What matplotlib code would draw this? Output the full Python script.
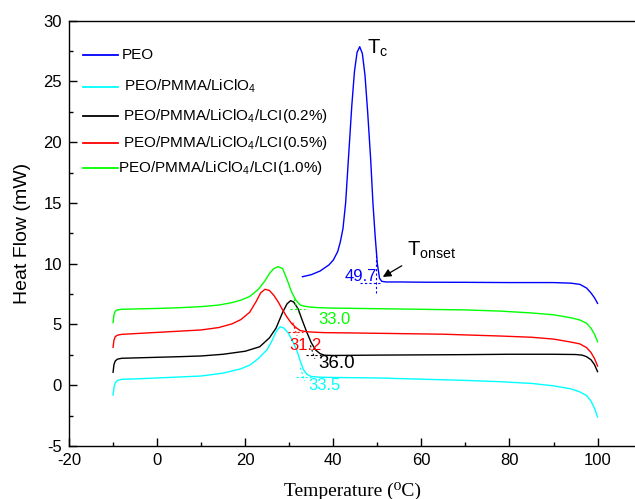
import matplotlib
matplotlib.use("Agg")
import matplotlib.pyplot as plt
from matplotlib.ticker import MultipleLocator

plt.rcParams['font.family'] = ['Liberation Sans', 'DejaVu Sans']
plt.rcParams['mathtext.fontset'] = 'custom'
plt.rcParams['mathtext.rm'] = 'Liberation Sans'
plt.rcParams['mathtext.it'] = 'Liberation Sans:italic'
plt.rcParams['axes.unicode_minus'] = False

# ---- données ----
labels = ['PEO',
          'PEO/PMMA/LiClO$_4$',
          'PEO/PMMA/LiClO$_4$/LCI(0.2%)',
          'PEO/PMMA/LiClO$_4$/LCI(0.5%)',
          'PEO/PMMA/LiClO$_4$/LCI(1.0%)']
couleurs = ['#0000ff', '#00ffff', '#000000', '#ff0000', '#00ff00']

x_peo = [33, 35, 37, 39, 40, 41, 41.6, 42.2, 42.8, 43.5, 44.2, 44.8, 45.4, 46, 46.6, 47.2,
         47.8, 48.5, 49, 49.5, 50, 50.5, 51, 52, 55, 60, 70, 80, 90, 94, 96, 97.5, 98.5,
         99.3, 100]
y_peo = [8.93, 9.1, 9.4, 9.9, 10.3, 11.0, 11.8, 12.9, 15.0, 19.0, 23.0, 25.8, 27.4, 27.86,
         27.3, 25.5, 22.5, 18.5, 15.0, 12.3, 10.0, 8.8, 8.55, 8.5, 8.5, 8.48, 8.47, 8.45, 8.45,
         8.4, 8.3, 8.0, 7.6, 7.2, 6.74]

x_pmma = [-10, -9.8, -9.5, -9, -8, -5, 0, 5, 10, 15, 19, 21.1, 23, 24.9, 26, 27, 27.9, 28.8,
          29.8, 30.8, 31.7, 32.5, 33.2, 34, 35, 37, 40, 50, 60, 70, 78, 85, 90, 94, 96, 97.5,
          98.5, 99.3, 100]
y_pmma = [-0.8, -0.2, 0.2, 0.4, 0.49, 0.52, 0.6, 0.68, 0.76, 1.0, 1.35, 1.67, 2.2, 2.9, 3.6,
          4.4, 4.82, 4.7, 4.28, 3.6, 2.9, 2.0, 1.3, 0.9, 0.72, 0.66, 0.64, 0.6, 0.5, 0.4, 0.29,
          0.15, -0.05, -0.3, -0.55, -0.85, -1.3, -1.9, -2.61]

x_lci02 = [-10, -9.8, -9.5, -9, -8, -5, 0, 5, 10, 15, 20, 23.3, 25.5, 27, 28.5, 29.5, 30.3, 31,
           32, 33, 34, 35, 36, 37, 38, 40, 50, 60, 70, 80, 90, 95, 96.5, 97.5, 98.5, 99.3, 100]
y_lci02 = [1.07, 1.7, 2.0, 2.15, 2.22, 2.25, 2.3, 2.35, 2.41, 2.55, 2.8, 3.17, 3.9, 4.7, 6.0,
           6.7, 6.96, 6.85, 6.3, 5.3, 4.35, 3.5, 2.9, 2.6, 2.47, 2.45, 2.48, 2.5, 2.52, 2.55,
           2.55, 2.53, 2.48, 2.35, 2.1, 1.7, 1.12]

x_lci05 = [-10, -9.8, -9.5, -9, -8, -5, 0, 5, 10, 14, 17, 19, 21, 22.5, 23.5, 24.5, 25.5, 26.5,
           27.5, 28.5, 29.5, 30.5, 31.5, 32.5, 34, 36, 38, 45, 55, 65, 78, 85, 90, 94, 96, 97.5,
           98.5, 99.3, 100]
y_lci05 = [3.12, 3.7, 4.0, 4.12, 4.19, 4.25, 4.35, 4.45, 4.55, 4.75, 5.05, 5.4, 6.0, 6.9, 7.6,
           7.9, 7.8, 7.4, 6.85, 6.2, 5.6, 5.1, 4.75, 4.5, 4.4, 4.36, 4.33, 4.3, 4.25, 4.2, 4.05,
           3.95, 3.8, 3.55, 3.4, 3.1, 2.7, 2.2, 1.58]

x_lci10 = [-10, -9.8, -9.5, -9, -8, -5, 0, 5, 10, 14, 17, 19, 21, 23, 24.5, 25.5, 26.5, 27.5,
           28.5, 29.5, 30.5, 31.5, 32.5, 33.5, 35, 37, 40, 50, 60, 70, 78, 85, 90, 94, 96,
           97.5, 98.5, 99.3, 100]
y_lci10 = [5.15, 5.8, 6.1, 6.2, 6.25, 6.28, 6.32, 6.38, 6.47, 6.6, 6.8, 7.0, 7.3, 7.9, 8.6,
           9.2, 9.6, 9.76, 9.6, 8.7, 7.7, 7.0, 6.6, 6.5, 6.42, 6.38, 6.35, 6.3, 6.25, 6.2, 6.1,
           5.95, 5.8, 5.55, 5.37, 5.1, 4.7, 4.2, 3.58]

series_x = [x_peo, x_pmma, x_lci02, x_lci05, x_lci10]
series_y = [y_peo, y_pmma, y_lci02, y_lci05, y_lci10]

# températures onset (texte) et croix de tangentes (position lue)
onset_txt = ['49.7', '33.5', '36.0', '31.2', '33.0']
croix_x = [49.8, 33.1, 35.4, 31.4, 31.7]
croix_y = [8.4, 0.65, 2.49, 4.36, 6.28]
txt_x = [46.2, 34.3, 36.7, 30.0, 36.6]
txt_y = [8.93, 0.02, 1.75, 3.31, 5.43]
txt_taille = [12, 12, 13.5, 12, 12]

# ---- figure ----
fig = plt.figure(figsize=(6.35, 4.99), dpi=100)
ax = fig.add_axes([0.1087, 0.1062, 0.8913, 0.8523])

for xs, ys, c in zip(series_x, series_y, couleurs):
    ax.plot(xs, ys, color=c, lw=1.0)

# tangentes en pointillés
for i, c in enumerate(couleurs):
    cx, cy = croix_x[i], croix_y[i]
    if i == 0:
        ax.plot([cx - 3.7, cx + 1.2], [cy, cy], ls=(0, (2, 2)), color=c, lw=0.8)
        ax.plot([cx, cx], [cy - 0.8, cy + 2.7], ls=(0, (2, 2)), color=c, lw=0.8)
    else:
        ax.plot([cx - 1.6, cx + 1.8], [cy, cy], ls=(0, (2, 2)), color=c, lw=0.8)
        ax.plot([cx - 0.6, cx + 0.4], [cy + 0.8, cy - 0.3], ls=(0, (2, 2)), color=c, lw=0.8)
    ha = 'center' if i == 0 else 'left'
    ax.text(txt_x[i], txt_y[i], onset_txt[i], color=c, fontsize=txt_taille[i],
            ha=ha, va='center')

# Tc et Tonset
ax.text(47.6, 27.76, r'T$_\mathrm{c}$', fontsize=14.5, ha='left', va='center')
ax.text(56.7, 11.1, r'T$_\mathrm{onset}$', fontsize=14.5, ha='left', va='center')
ax.annotate('', xy=(50.7, 8.8), xytext=(56.1, 9.95),
            arrowprops=dict(arrowstyle='-|>', color='black', lw=0.9, mutation_scale=12))

# légende dessinée à la main (espacement irrégulier comme l'original)
leg_y = [0.9194, 0.8449, 0.7753, 0.7132, 0.6544]
leg_tx = [0.0932, 0.0972, 0.0949, 0.0949, 0.0871]
for i in range(5):
    ax.plot([0.0242, 0.0866], [leg_y[i], leg_y[i]], color=couleurs[i], lw=1.3,
            transform=ax.transAxes)
    ax.text(leg_tx[i], leg_y[i], labels[i], transform=ax.transAxes, fontsize=11,
            ha='left', va='center')

ax.set_xlim(-20, 108.5)
ax.set_ylim(-5, 30)
ax.xaxis.set_major_locator(MultipleLocator(20))
ax.xaxis.set_minor_locator(MultipleLocator(10))
ax.yaxis.set_major_locator(MultipleLocator(5))
ax.yaxis.set_minor_locator(MultipleLocator(2.5))
ax.tick_params(which='both', direction='in', labelsize=12, width=1.0)
ax.tick_params(which='major', length=5.5, pad=5)
ax.tick_params(which='minor', length=2.7)
ax.spines['right'].set_visible(False)
for s in ['left', 'bottom', 'top']:
    ax.spines[s].set_linewidth(1.0)

ax.set_ylabel('Heat Flow (mW)', fontsize=14, labelpad=9)
ax.set_xlabel('Temperature (\u2070C)', fontsize=14, labelpad=10,
              family=['Liberation Serif', 'DejaVu Serif'])

fig.savefig('out.png', dpi=100)
